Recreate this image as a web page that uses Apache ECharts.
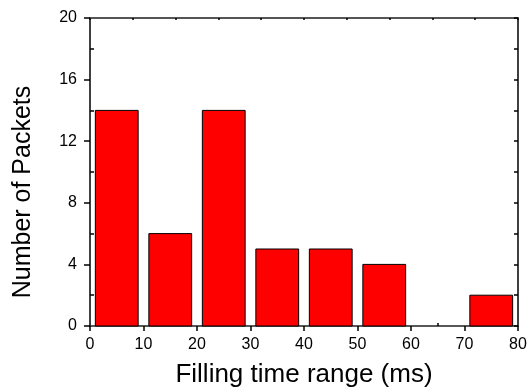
<!DOCTYPE html>
<html>
<head>
<meta charset="utf-8">
<script src="https://cdn.jsdelivr.net/npm/echarts@6/dist/echarts.min.js"></script>
<style>
  html, body { margin: 0; padding: 0; background: #fff; }
  #chart { width: 529px; height: 389px; }
</style>
</head>
<body>
<div id="chart"></div>
<script>
// histogram bins (ms) and packet counts
const binStarts = [0, 10, 20, 30, 40, 50, 60, 70];
const binWidth = 10;
const counts = [14, 6, 14, 5, 5, 4, 0, 2];

const xTicks = [0, 10, 20, 30, 40, 50, 60, 70, 80];
const yTicks = [0, 4, 8, 12, 16, 20];

const barInset = 1; // gap on each side of a bin, in ms
const font = 'Liberation Sans, Arial, sans-serif';

const chart = echarts.init(document.getElementById('chart'));

const binData = binStarts.map((s, i) => [s, s + binWidth, counts[i]]);

const xMin = xTicks[0], xMax = xTicks[xTicks.length - 1];
const yMin = yTicks[0], yMax = yTicks[yTicks.length - 1];
// minor ticks half way between the labelled ones
const xMinor = xTicks.slice(1).map((t, i) => (t + xTicks[i]) / 2);
const yMinor = yTicks.slice(1).map((t, i) => (t + yTicks[i]) / 2);

const tickLine = { color: '#000', width: 1.5 };

const option = {
  animation: false,
  grid: { left: 90, right: 11, top: 18, bottom: 63, outerBoundsMode: 'none' },
  xAxis: [
    {
      type: 'value', position: 'bottom', min: xMin, max: xMax, interval: 10,
      name: 'Filling time range (ms)', nameLocation: 'middle', nameGap: 36,
      nameTextStyle: { fontFamily: font, fontSize: 26, color: '#000' },
      axisLine: { onZero: false, lineStyle: { color: '#222', width: 1.5 } },
      axisTick: { length: 5, lineStyle: tickLine },
      axisLabel: { fontFamily: font, fontSize: 16, color: '#000', margin: 11 },
      splitLine: { show: false }
    },
    {
      type: 'value', position: 'bottom', min: xMin, max: xMax, interval: 10,
      axisLine: { show: false, onZero: false },
      axisTick: { inside: true, length: 3, customValues: xMinor, lineStyle: tickLine },
      axisLabel: { show: false },
      splitLine: { show: false }
    },
    {
      type: 'value', position: 'top', min: xMin, max: xMax, interval: 8,
      axisLine: { onZero: false, lineStyle: { color: '#555', width: 2 } },
      axisTick: { inside: true, length: 2, lineStyle: tickLine },
      axisLabel: { show: false },
      splitLine: { show: false }
    }
  ],
  yAxis: [
    {
      type: 'value', position: 'left', min: yMin, max: yMax, interval: 4,
      name: 'Number of Packets', nameLocation: 'middle', nameGap: 54,
      nameTextStyle: { fontFamily: font, fontSize: 25, color: '#000', padding: [0, 40, 0, 0] },
      axisLine: { onZero: false, lineStyle: { color: '#000', width: 1.5 } },
      axisTick: { length: 6, lineStyle: tickLine },
      axisLabel: { fontFamily: font, fontSize: 16, color: '#000', margin: 13 },
      splitLine: { show: false }
    },
    {
      type: 'value', position: 'left', min: yMin, max: yMax, interval: 4,
      axisLine: { show: false, onZero: false },
      axisTick: { inside: true, length: 4, customValues: yMinor, lineStyle: tickLine },
      axisLabel: { show: false },
      splitLine: { show: false }
    },
    {
      type: 'value', position: 'right', min: yMin, max: yMax, interval: 2,
      axisLine: { onZero: false, lineStyle: { color: '#000', width: 1.5 } },
      axisTick: { inside: true, length: 4, lineStyle: tickLine },
      axisLabel: { show: false },
      splitLine: { show: false }
    }
  ],
  series: [
    {
      type: 'custom',
      xAxisIndex: 0,
      yAxisIndex: 0,
      encode: { x: [0, 1], y: 2 },
      data: binData,
      renderItem: function (params, api) {
        const v = api.value(2);
        if (!v) return null;
        const p0 = api.coord([api.value(0) + barInset, v]);
        const p1 = api.coord([api.value(1) - barInset, 0]);
        return {
          type: 'rect',
          shape: { x: p0[0], y: p0[1], width: p1[0] - p0[0], height: p1[1] - p0[1] },
          style: { fill: '#ff0000', stroke: '#000', lineWidth: 1 }
        };
      }
    }
  ]
};

chart.setOption(option);
</script>
</body>
</html>
